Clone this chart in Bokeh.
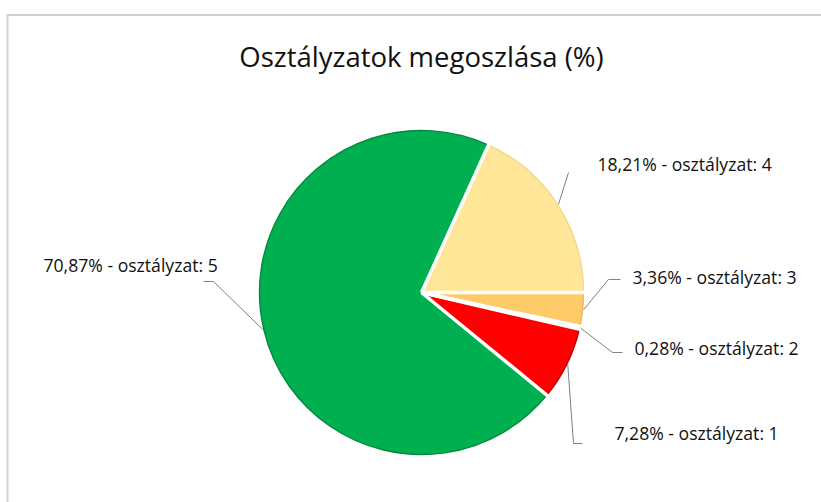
import numpy as np
from bokeh.plotting import figure
from bokeh.models import Range1d, ColumnDataSource
from bokeh.core.properties import value
from bokeh.embed import file_html
from bokeh.resources import INLINE

# ---- data (clockwise order as drawn) ----
grades = ["4", "3", "2", "1", "5"]
percents = [18.21, 3.36, 0.28, 7.28, 70.87]
label_texts = ["18,21% - osztályzat: 4", "3,36% - osztályzat: 3", "0,28% - osztályzat: 2",
               "7,28% - osztályzat: 1", "70,87% - osztályzat: 5"]
colors = ["#FFE699", "#FFCB69", "#FFB000", "#FF0000", "#00B050"]
edge_colors = ["#F2D888", "#F0B950", "#E09A00", "#C00000", "#008A3C"]
title_text = "Osztályzatok megoszlása (%)"

W, H = 821, 502
def py(y):  # page y -> data y
    return H - y

p = figure(width=W, height=H, output_backend="svg", toolbar_location=None,
           x_range=Range1d(0, W), y_range=Range1d(0, H), min_border=0)
p.axis.visible = False
p.grid.visible = False
p.outline_line_color = None
p.background_fill_color = "white"
p.border_fill_color = "white"

# chart frame
p.line(x=[7, 7, W], y=[0, py(14.5), py(14.5)], line_color="#D0D0D0", line_width=2)

cx, cy, r = 421, py(292), 162
start_deg = 24.44  # clockwise from 12 o'clock
fr = np.array(percents) / sum(percents)
theta_end = start_deg + np.cumsum(fr) * 360
theta_start = theta_end - fr * 360

src = ColumnDataSource(dict(
    s=np.deg2rad(90 - theta_end), e=np.deg2rad(90 - theta_start), c=colors, lc=edge_colors))
p.wedge(x=cx, y=cy, radius=r, start_angle="s", end_angle="e",
        direction="anticlock", fill_color="c", line_color="lc", line_width=1.4, source=src)

# white radial separators
for th in theta_start:
    a = np.deg2rad(th)
    p.segment(x0=cx, y0=cy, x1=cx + (r + 3) * np.sin(a), y1=cy + (r + 3) * np.cos(a),
              line_color="white", line_width=3.5)

# labels: (elbow points in page coords, text left x, text center y)
label_layout = [
    ([(568, 172)], 597, 163),
    ([(608, 279), (620, 279)], 632, 276),
    ([(612, 352), (622, 352)], 634, 347),
    ([(573, 443), (582, 443)], 614, 432),
    ([(213, 281), (203, 281)], 43, 264),
]
mids = (theta_start + theta_end) / 2
for i, (pts, tx, ty) in enumerate(label_layout):
    a = np.deg2rad(mids[i])
    xs = [cx + (r + 1) * np.sin(a)] + [q[0] for q in pts]
    ys = [cy + (r + 1) * np.cos(a)] + [py(q[1]) for q in pts]
    p.line(x=xs, y=ys, line_color="#808080", line_width=1)
    p.text(x=[tx], y=[py(ty)], text=[label_texts[i]], text_font=value("Open Sans"),
           text_font_size="17.6px", text_color="#111111", text_baseline="middle",
           text_align="left")

p.text(x=[421], y=[py(56)], text=[title_text], text_font=value("Open Sans"),
       text_font_size="27.5px", text_color="#111111", text_baseline="middle", text_align="center")

open("out.html", "w").write(file_html(p, INLINE))
